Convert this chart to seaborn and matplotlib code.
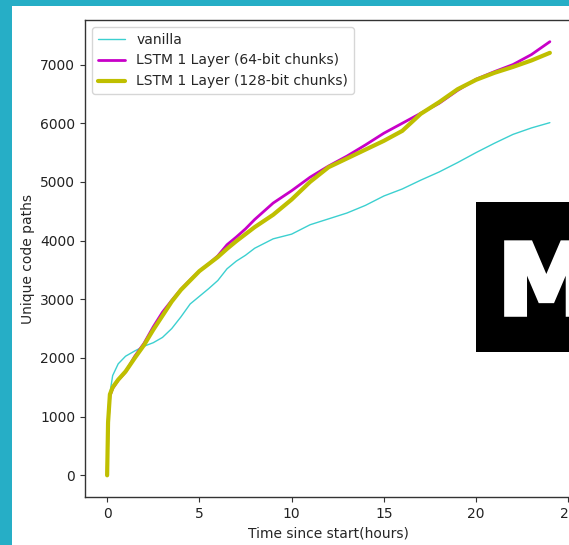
import matplotlib
matplotlib.use("Agg")
import matplotlib.pyplot as plt
import matplotlib.patheffects as pe
from matplotlib.patches import Rectangle
import numpy as np
import pandas as pd
import seaborn as sns

# ---- data ----
t_hours = [0, 0.05, 0.15, 0.3, 0.6, 1.0, 1.5, 2.0, 2.5, 3.0, 3.5, 4.0, 4.5,
           5.0, 5.5, 6.0, 6.5, 7.0, 7.5, 8, 9, 10, 11, 12, 13, 14, 15, 16,
           17, 18, 19, 20, 21, 22, 23, 24]
vanilla = [0, 800, 1400, 1700, 1900, 2030, 2120, 2200, 2260, 2350, 2500, 2700,
           2920, 3050, 3180, 3320, 3520, 3650, 3750, 3870, 4030, 4110, 4270,
           4370, 4470, 4600, 4760, 4880, 5030, 5170, 5330, 5500, 5660, 5810,
           5920, 6010]
lstm64 = [0, 900, 1350, 1480, 1620, 1760, 2030, 2250, 2530, 2780, 2980, 3170,
          3330, 3480, 3600, 3740, 3930, 4060, 4200, 4360, 4640, 4850, 5080,
          5270, 5440, 5630, 5830, 6000, 6170, 6340, 6560, 6750, 6880, 7000,
          7170, 7390]
lstm128 = [0, 900, 1380, 1500, 1630, 1770, 2000, 2220, 2480, 2720, 2960, 3160,
           3320, 3480, 3600, 3720, 3860, 3990, 4110, 4230, 4440, 4700, 5000,
           5250, 5400, 5550, 5700, 5870, 6160, 6360, 6580, 6740, 6860, 6960,
           7070, 7200]
series_names = ["vanilla", "LSTM 1 Layer (64-bit chunks)", "LSTM 1 Layer (128-bit chunks)"]
series_values = [vanilla, lstm64, lstm128]
series_colors = ["#3cd0d0", "#c800c8", "#bfbf00"]
series_widths = [1.0, 2.0, 3.0]
x_label = "Time since start(hours)"
y_label = "Unique code paths"

sns.set_style("ticks")
plt.rcParams["font.family"] = ["DejaVu Sans"]
plt.rcParams["font.size"] = 10

W, H = 569, 545
fig = plt.figure(figsize=(W / 100, H / 100), dpi=100, facecolor="#26aec6")
# white canvas inside teal border
fig.patches.append(Rectangle((12 / W, 0), 1 - 12 / W, 1 - 6 / H,
                             transform=fig.transFigure, facecolor="white",
                             edgecolor="none", zorder=-10))

ax = fig.add_axes([85 / W, 1 - 497 / H, (572 - 85) / W, (497 - 20) / H])
ax.set_facecolor("white")
ax.set_zorder(1)

for name, vals, col, lw in zip(series_names, series_values, series_colors, series_widths):
    df = pd.DataFrame({"t": t_hours, "v": vals})
    sns.lineplot(data=df, x="t", y="v", ax=ax, color=col, linewidth=lw, label=name)

ax.set_xticks([0, 5, 10, 15, 20, 25])
ax.set_yticks([0, 1000, 2000, 3000, 4000, 5000, 6000, 7000])
ax.set_xlabel(x_label)
ax.set_ylabel(y_label)
for s in ax.spines.values():
    s.set_color("#333333")
    s.set_linewidth(1.0)
ax.tick_params(colors="#333333", labelcolor="#222222")
ax.legend(loc="upper left", frameon=True)

# black badge on the right (drawn above the axes)
badge = fig.add_axes([476 / W, 1 - 352 / H, 1 - 476 / W, 150 / H])
badge.set_zorder(5)
badge.set_facecolor("black")
badge.set_xticks([])
badge.set_yticks([])
for s in badge.spines.values():
    s.set_visible(False)
badge.text(22 / (W - 476), 38 / 150, "M", color="white", fontsize=70,
           fontweight="heavy", ha="left", va="baseline",
           transform=badge.transAxes, clip_on=False,
           path_effects=[pe.withStroke(linewidth=4, foreground="white",
                                       joinstyle="miter")])

fig.savefig("out.png", dpi=100, facecolor=fig.get_facecolor())
